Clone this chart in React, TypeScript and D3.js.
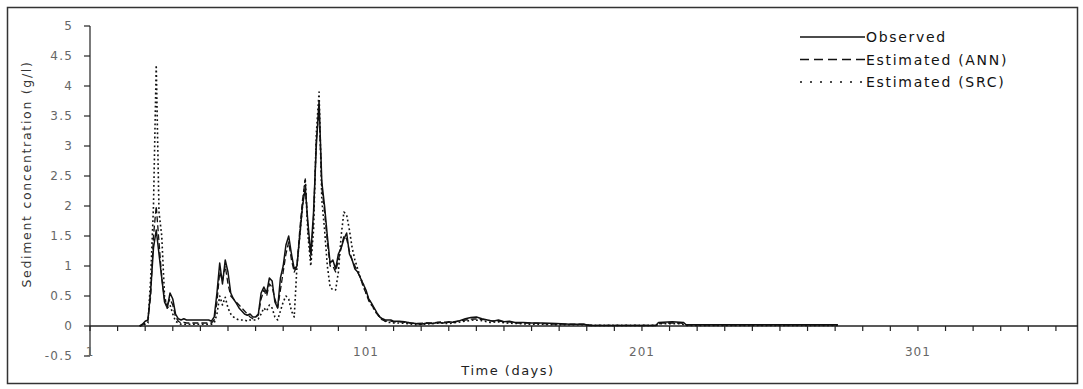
import * as d3 from "d3";

// Daily values from day 19 to day 112 (g/l), then sparse [day, value] pairs for the low tail
const START_DAY = 19;

const OBSERVED_DAILY = [
  0, 0.03, 0.08, 0.1, 0.6, 1.3, 1.6, 1.2, 0.8, 0.4,
  0.3, 0.55, 0.45, 0.2, 0.12, 0.1, 0.12, 0.1, 0.1, 0.1,
  0.1, 0.1, 0.1, 0.1, 0.1, 0.1, 0.08, 0.15, 0.55, 1.05,
  0.7, 1.1, 0.9, 0.55, 0.45, 0.38, 0.3, 0.25, 0.2, 0.18,
  0.2, 0.15, 0.15, 0.2, 0.55, 0.65, 0.55, 0.8, 0.75, 0.4,
  0.3, 0.8, 1.0, 1.35, 1.5, 1.2, 0.95, 1.0, 1.5, 2.0,
  2.3, 1.7, 1.2, 1.9, 3.0, 3.75, 2.4, 2.0, 1.5, 1.05,
  1.1, 0.95, 1.2, 1.3, 1.45, 1.55, 1.2, 1.1, 0.95, 0.9,
  0.8, 0.7, 0.6, 0.45, 0.38, 0.3, 0.22, 0.15, 0.12, 0.1,
  0.1, 0.1, 0.08, 0.08,
];

const ANN_DAILY = [
  0, 0.02, 0.05, 0.1, 0.5, 1.5, 2.0, 1.4, 0.8, 0.45,
  0.35, 0.45, 0.35, 0.15, 0.08, 0.05, 0.06, 0.05, 0.05, 0.05,
  0.05, 0.05, 0.05, 0.05, 0.05, 0.05, 0.05, 0.1, 0.4, 0.9,
  0.75, 1.0, 0.7, 0.5, 0.45, 0.4, 0.35, 0.3, 0.25, 0.2,
  0.15, 0.12, 0.15, 0.18, 0.45, 0.6, 0.5, 0.7, 0.65, 0.45,
  0.3, 0.6, 0.9, 1.2, 1.4, 1.1, 0.9, 1.0, 1.6, 2.1,
  2.45, 1.6, 1.1, 1.8, 3.1, 3.6, 2.3, 1.9, 1.4, 1.0,
  1.0, 0.9, 1.1, 1.3, 1.5, 1.45, 1.25, 1.1, 1.0, 0.9,
  0.8, 0.65, 0.55, 0.42, 0.35, 0.28, 0.2, 0.15, 0.1, 0.08,
  0.08, 0.08, 0.07, 0.07,
];

const SRC_DAILY = [
  0, 0.01, 0.03, 0.05, 0.8, 2.0, 4.35, 1.9, 1.5, 0.5,
  0.3, 0.35, 0.2, 0.08, 0.05, 0.03, 0.03, 0.03, 0.03, 0.03,
  0.03, 0.03, 0.03, 0.03, 0.03, 0.03, 0.03, 0.05, 0.2, 0.5,
  0.35, 0.48, 0.3, 0.2, 0.15, 0.12, 0.1, 0.1, 0.1, 0.08,
  0.1, 0.1, 0.1, 0.12, 0.2, 0.3, 0.25, 0.35, 0.3, 0.15,
  0.1, 0.25, 0.4, 0.5, 0.45, 0.25, 0.15, 1.0, 1.5, 2.0,
  2.45, 1.5, 1.0, 1.6, 3.2, 3.9, 2.1, 1.6, 1.0, 0.65,
  0.6, 0.6, 0.9, 1.5, 1.9, 1.85, 1.6, 1.3, 1.1, 0.95,
  0.8, 0.7, 0.55, 0.45, 0.35, 0.28, 0.2, 0.15, 0.1, 0.08,
  0.06, 0.06, 0.05, 0.05,
];

const OBSERVED_TAIL: [number, number][] = [
  [113, 0.08], [115, 0.07], [117, 0.05], [119, 0.04], [121, 0.03], [123, 0.05],
  [125, 0.04], [127, 0.06], [129, 0.05], [131, 0.07], [133, 0.06], [135, 0.09],
  [137, 0.12], [139, 0.14], [141, 0.15], [143, 0.12], [145, 0.1], [147, 0.08],
  [149, 0.1], [151, 0.07], [153, 0.08], [155, 0.06], [158, 0.06], [161, 0.05],
  [165, 0.05], [170, 0.04], [175, 0.03], [180, 0.03], [182, 0.01], [206, 0.01],
  [207, 0.06], [212, 0.07], [216, 0.06], [217, 0.02], [272, 0.02],
];

const ANN_TAIL: [number, number][] = [
  [113, 0.07], [116, 0.06], [119, 0.04], [122, 0.05], [125, 0.05], [128, 0.07],
  [131, 0.06], [134, 0.08], [137, 0.1], [140, 0.12], [143, 0.11], [146, 0.09],
  [149, 0.08], [152, 0.07], [156, 0.05], [160, 0.05], [165, 0.04], [170, 0.03],
  [180, 0.03], [183, 0.01], [206, 0.01], [208, 0.05], [215, 0.05], [217, 0.02],
  [272, 0.02],
];

const SRC_TAIL: [number, number][] = [
  [113, 0.05], [116, 0.04], [119, 0.02], [122, 0.03], [125, 0.04], [128, 0.05],
  [131, 0.04], [134, 0.06], [137, 0.08], [140, 0.1], [143, 0.09], [146, 0.06],
  [149, 0.07], [152, 0.05], [156, 0.04], [160, 0.03], [165, 0.03], [170, 0.02],
  [180, 0.02], [183, 0.01], [206, 0.01], [208, 0.04], [215, 0.04], [217, 0.01],
  [272, 0.01],
];

const Y_TICKS = [-0.5, 0, 0.5, 1, 1.5, 2, 2.5, 3, 3.5, 4, 4.5, 5];
const X_LABELS = [1, 101, 201, 301];
const X_TICKS = d3.range(1, 352, 10);

const SERIES = [
  { label: "Observed", daily: OBSERVED_DAILY, tail: OBSERVED_TAIL, dash: "none", width: 1.5, legendDash: "none" },
  { label: "Estimated (ANN)", daily: ANN_DAILY, tail: ANN_TAIL, dash: "6,3", width: 1.3, legendDash: "9,5" },
  { label: "Estimated (SRC)", daily: SRC_DAILY, tail: SRC_TAIL, dash: "1.8,2.6", width: 1.6, legendDash: "2,8" },
];

const W = 1083;
const H = 389;
const FONT = "'DejaVu Sans', Verdana, sans-serif";

export default function App() {
  const x = d3.scaleLinear().domain([1, 359]).range([90, 1078]);
  const y = d3.scaleLinear().domain([-0.5, 5]).range([356, 26]);
  const y0 = y(0);

  const line = d3.line<[number, number]>()
    .x((d) => x(d[0]))
    .y((d) => y(d[1]));

  return (
    <svg width={W} height={H} style={{ position: "absolute", left: 0, top: 0, background: "#fff" }}>
      {/* outer frame */}
      <rect x={7.5} y={7.5} width={1070} height={376} fill="none" stroke="#333" strokeWidth={1.5} />

      {/* y axis */}
      <line x1={90} x2={90} y1={y(5)} y2={y(-0.5)} stroke="#222" strokeWidth={1.2} />
      {Y_TICKS.map((t) => (
        <g key={t}>
          <line x1={84} x2={90} y1={y(t)} y2={y(t)} stroke="#222" strokeWidth={1.2} />
          <text x={73} y={y(t)} dy="0.35em" textAnchor="end" fontSize={12}
            fontFamily={FONT} fill="#666" letterSpacing={1.2}>
            {t}
          </text>
        </g>
      ))}
      <text transform={`translate(31,174) rotate(-90)`} textAnchor="middle" fontSize={12.5}
        fontFamily={FONT} fill="#333" letterSpacing={1.7}>
        Sediment concentration (g/l)
      </text>

      {/* x axis */}
      <line x1={90} x2={1078} y1={y0} y2={y0} stroke="#222" strokeWidth={1.3} />
      {X_TICKS.map((t) => (
        <line key={t} x1={x(t)} x2={x(t)} y1={y0} y2={y0 + 5} stroke="#222" strokeWidth={1.2} />
      ))}
      {X_LABELS.map((t) => (
        <text key={t} x={x(t)} y={356} textAnchor="middle" fontSize={12}
          fontFamily={FONT} fill="#666" letterSpacing={1}>
          {t}
        </text>
      ))}
      <text x={508} y={375} textAnchor="middle" fontSize={13} fontFamily={FONT}
        fill="#222" letterSpacing={1.5}>
        Time (days)
      </text>

      {/* series */}
      {SERIES.map((s) => {
        const pts: [number, number][] = s.daily
          .map((v, i) => [START_DAY + i, v] as [number, number])
          .concat(s.tail);
        return (
          <path key={s.label} d={line(pts) ?? ""} fill="none" stroke="#111"
            strokeWidth={s.width} strokeDasharray={s.dash} strokeLinejoin="round" />
        );
      })}

      {/* legend */}
      {SERIES.map((s, i) => {
        const ly = 37 + i * 22.5;
        return (
          <g key={s.label}>
            <line x1={800} x2={865} y1={ly} y2={ly} stroke="#111" strokeWidth={1.6}
              strokeDasharray={s.legendDash} />
            <text x={866} y={ly} dy="0.36em" fontSize={14} fontFamily={FONT}
              fill="#111" letterSpacing={1.7}>
              {s.label}
            </text>
          </g>
        );
      })}
    </svg>
  );
}
